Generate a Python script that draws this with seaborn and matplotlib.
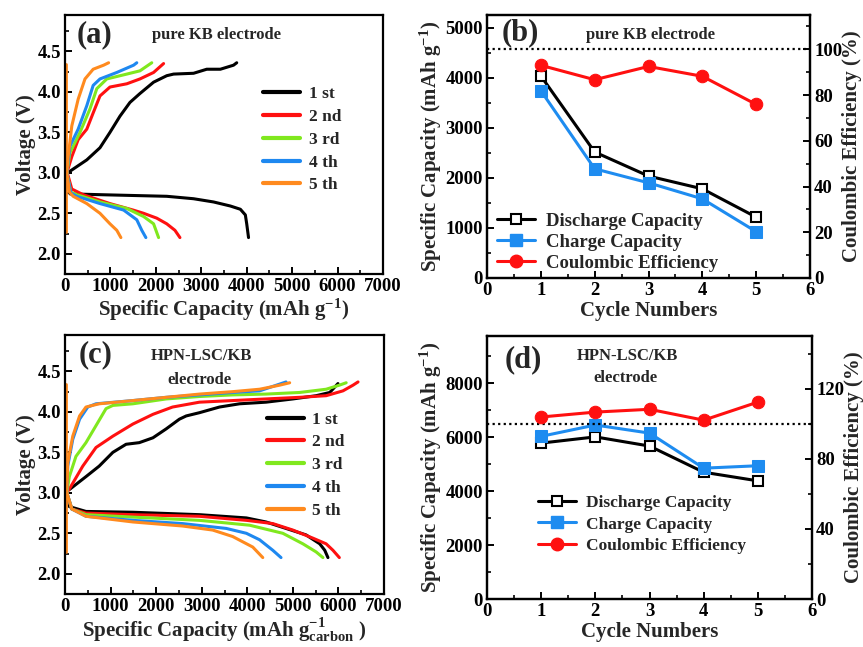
import numpy as np
import matplotlib
matplotlib.use("Agg")
import matplotlib.pyplot as plt
import seaborn as sns
from matplotlib.ticker import MultipleLocator
from matplotlib.lines import Line2D

# ---------- data ----------
cycle_labels = ["1 st", "2 nd", "3 rd", "4 th", "5 th"]
cycle_colors = ["black", "#FF1010", "#80E81E", "#1E88F0", "#FF8A1E"]

# (a) pure KB electrode, [capacity mAh/g, voltage V]
kb_dis_1 = [[40, 3.0], [110, 2.74], [770, 2.73], [1500, 2.72], [2240, 2.71], [2830, 2.68], [3270, 2.64],
            [3640, 2.59], [3860, 2.55], [3970, 2.48], [4000, 2.37], [4040, 2.2]]
kb_chg_1 = [[110, 3.02], [480, 3.16], [770, 3.31], [990, 3.50], [1210, 3.70], [1430, 3.87], [1650, 3.98],
            [1950, 4.12], [2240, 4.20], [2390, 4.22], [2830, 4.23], [3120, 4.28], [3420, 4.28], [3710, 4.33],
            [3780, 4.36]]
kb_dis_2 = [[40, 3.02], [150, 2.80], [400, 2.73], [990, 2.62], [1500, 2.54], [1730, 2.50], [2020, 2.44],
            [2240, 2.37], [2420, 2.29], [2530, 2.2]]
kb_chg_2 = [[40, 3.0], [150, 3.20], [290, 3.41], [480, 3.54], [620, 3.74], [770, 3.95], [990, 4.06],
            [1360, 4.10], [1650, 4.16], [1950, 4.24], [2170, 4.35]]
kb_dis_3 = [[40, 3.0], [130, 2.76], [260, 2.73], [770, 2.64], [1360, 2.56], [1730, 2.46], [1950, 2.37],
            [2060, 2.2]]
kb_chg_3 = [[40, 3.0], [110, 3.25], [330, 3.50], [550, 3.79], [700, 4.04], [920, 4.16], [1360, 4.22],
            [1650, 4.26], [1910, 4.36]]
kb_dis_4 = [[40, 3.0], [130, 2.75], [260, 2.71], [770, 2.62], [1290, 2.54], [1580, 2.42], [1690, 2.29],
            [1780, 2.2]]
kb_chg_4 = [[40, 3.0], [110, 3.33], [290, 3.54], [480, 3.83], [620, 4.08], [770, 4.16], [1140, 4.24],
            [1510, 4.33], [1580, 4.36]]
kb_dis_5 = [[40, 3.0], [100, 2.76], [180, 2.71], [480, 2.62], [770, 2.50], [990, 2.37], [1140, 2.29],
            [1230, 2.2]]
kb_chg_5 = [[40, 3.0], [70, 3.20], [150, 3.58], [290, 3.91], [440, 4.16], [620, 4.28], [850, 4.33],
            [960, 4.36]]
kb_rest_5 = [[20, 2.27], [20, 4.35]]

# (c) HPN-LSC/KB electrode
lsc_dis_1 = [[40, 3.0], [95, 2.83], [460, 2.77], [1490, 2.76], [2950, 2.73], [3980, 2.69], [4410, 2.64],
             [4850, 2.56], [5290, 2.48], [5590, 2.37], [5700, 2.29], [5770, 2.2]]
lsc_chg_1 = [[95, 3.04], [460, 3.20], [750, 3.33], [1050, 3.50], [1340, 3.60], [1630, 3.62], [1930, 3.68],
             [2220, 3.79], [2510, 3.91], [2660, 3.95], [2950, 3.99], [3390, 4.06], [3830, 4.10], [4410, 4.12],
             [5000, 4.16], [5510, 4.20], [5810, 4.24], [5990, 4.35]]
lsc_dis_2 = [[40, 3.0], [150, 2.80], [460, 2.75], [1490, 2.73], [2950, 2.71], [3980, 2.66], [4560, 2.62],
             [5000, 2.54], [5440, 2.44], [5730, 2.37], [5880, 2.29], [6020, 2.2]]
lsc_chg_2 = [[40, 3.0], [130, 3.08], [390, 3.33], [680, 3.56], [1050, 3.70], [1490, 3.85], [1930, 3.97],
             [2360, 4.06], [2950, 4.12], [3680, 4.14], [4410, 4.16], [5150, 4.18], [5730, 4.20], [6100, 4.26],
             [6320, 4.33], [6430, 4.37]]
lsc_dis_3 = [[40, 3.0], [150, 2.80], [460, 2.73], [1490, 2.70], [2950, 2.66], [4050, 2.60], [4780, 2.50],
             [5220, 2.37], [5510, 2.27], [5660, 2.2]]
lsc_chg_3 = [[40, 3.0], [95, 3.20], [240, 3.45], [460, 3.62], [680, 3.83], [900, 4.04], [1050, 4.08],
             [1490, 4.10], [2220, 4.16], [2950, 4.19], [3680, 4.21], [4410, 4.22], [5150, 4.24], [5730, 4.28],
             [6020, 4.33], [6170, 4.36]]
lsc_dis_4 = [[40, 3.0], [150, 2.80], [460, 2.71], [1490, 2.66], [2580, 2.62], [3540, 2.56], [3980, 2.50],
             [4270, 2.42], [4560, 2.29], [4740, 2.2]]
lsc_chg_4 = [[40, 3.0], [60, 3.33], [170, 3.66], [320, 3.91], [500, 4.06], [680, 4.10], [1490, 4.14],
             [2220, 4.18], [2950, 4.21], [3680, 4.24], [4270, 4.26], [4850, 4.37]]
lsc_dis_5 = [[40, 3.0], [150, 2.80], [460, 2.71], [1490, 2.64], [2580, 2.59], [3240, 2.54], [3680, 2.46],
             [4120, 2.33], [4340, 2.2]]
lsc_chg_5 = [[40, 3.0], [60, 3.37], [170, 3.70], [320, 3.95], [460, 4.06], [750, 4.10], [1490, 4.14],
             [2220, 4.18], [2950, 4.22], [3680, 4.25], [4270, 4.28], [4710, 4.33], [4930, 4.36]]
lsc_rest_5 = [[20, 2.27], [20, 4.35]]

# (b) / (d) cycling
cycle_no = [1, 2, 3, 4, 5]
kb_discharge = [4035, 2515, 2035, 1780, 1215]
kb_charge = [3740, 2180, 1900, 1580, 925]
kb_ce = [93.0, 86.7, 92.5, 88.2, 75.9]
lsc_discharge = [5780, 6010, 5670, 4700, 4380]
lsc_charge = [6030, 6450, 6150, 4850, 4940]
lsc_ce = [103.8, 106.6, 108.2, 102.0, 112.3]

# ---------- style ----------
sns.set_theme(style="ticks")
plt.rcParams.update({
    "font.family": ["Liberation Serif", "DejaVu Serif"],
    "font.weight": "bold",
    "axes.labelweight": "bold",
    "axes.linewidth": 1.6,
    "axes.edgecolor": "black",
    "xtick.direction": "in",
    "ytick.direction": "in",
    "xtick.color": "black",
    "ytick.color": "black",
    "xtick.major.size": 5,
    "ytick.major.size": 5,
    "xtick.minor.size": 3,
    "ytick.minor.size": 3,
    "xtick.major.width": 1.4,
    "ytick.major.width": 1.4,
    "xtick.minor.width": 1.2,
    "ytick.minor.width": 1.2,
    "mathtext.fontset": "custom",
    "mathtext.rm": "Liberation Serif:bold",
    "mathtext.it": "Liberation Serif:bold",
    "mathtext.bf": "Liberation Serif:bold",
    "mathtext.default": "rm",
})

W, H = 863, 647
TICK_FS = 13.5
fig = plt.figure(figsize=(W / 100, H / 100), dpi=100)


def box(l, t, r, b):
    return [l / W, 1 - b / H, (r - l) / W, (b - t) / H]


def ftext(x, y, s, size, **kw):
    fig.text(x / W, 1 - y / H, s, fontsize=size, fontweight="bold", ha="center", va="center", **kw)


def voltage_panel(ax, dis_curves, chg_curves, rest, xlabel):
    for i, (d, c) in enumerate(zip(dis_curves, chg_curves)):
        d = np.array(d)
        c = np.array(c)
        sns.lineplot(x=d[:, 0], y=d[:, 1], sort=False, estimator=None, color=cycle_colors[i], lw=2.2, ax=ax)
        sns.lineplot(x=c[:, 0], y=c[:, 1], sort=False, estimator=None, color=cycle_colors[i], lw=2.2, ax=ax)
    r = np.array(rest)
    sns.lineplot(x=r[:, 0], y=r[:, 1], sort=False, estimator=None, color=cycle_colors[4], lw=2.0, ax=ax)
    ax.set_xlim(0, 7000)
    ax.set_ylim(1.75, 4.95)
    ax.xaxis.set_major_locator(MultipleLocator(1000))
    ax.xaxis.set_minor_locator(MultipleLocator(500))
    ax.yaxis.set_major_locator(MultipleLocator(0.5))
    ax.yaxis.set_minor_locator(MultipleLocator(0.25))
    ax.tick_params(labelsize=TICK_FS, pad=3)
    ax.set_xlabel(xlabel, fontsize=15, labelpad=1)
    ax.set_ylabel("Voltage (V)", fontsize=15, labelpad=1)
    handles = [Line2D([], [], color=c, lw=3) for c in cycle_colors]
    return handles


def cycle_panel(ax, dis, chg, ce, ylim, ylim2, ymaj, ymin, y2maj, y2min, legend_kw):
    sns.lineplot(x=cycle_no, y=dis, color="black", lw=2.2, marker="s", markersize=7,
                 markerfacecolor="white", markeredgecolor="black", markeredgewidth=1.5, ax=ax)
    sns.lineplot(x=cycle_no, y=chg, color="#1E8CF0", lw=2.2, marker="s", markersize=8,
                 markeredgecolor="#1E8CF0", ax=ax)
    ax2 = ax.twinx()
    ax2.axhline(100, color="black", ls=(0, (1, 1.5)), lw=1.6)
    sns.lineplot(x=cycle_no, y=ce, color="#FF1010", lw=2.2, marker="o", markersize=9,
                 markeredgecolor="#FF1010", ax=ax2)
    ax.set_xlim(0, 6)
    ax.set_ylim(*ylim)
    ax2.set_ylim(*ylim2)
    ax.xaxis.set_major_locator(MultipleLocator(1))
    ax.xaxis.set_minor_locator(MultipleLocator(0.5))
    ax.yaxis.set_major_locator(MultipleLocator(ymaj))
    ax.yaxis.set_minor_locator(MultipleLocator(ymin))
    ax2.yaxis.set_major_locator(MultipleLocator(y2maj))
    ax2.yaxis.set_minor_locator(MultipleLocator(y2min))
    ax.tick_params(labelsize=TICK_FS, pad=3)
    ax2.tick_params(labelsize=TICK_FS, pad=3, direction="in")
    ax.set_xlabel("Cycle Numbers", fontsize=15, labelpad=1)
    ax.set_ylabel("Specific Capacity (mAh g$^{-1}$)", fontsize=15, labelpad=1)
    ax2.set_ylabel("Coulombic Efficiency (%)", fontsize=15, labelpad=0)
    for s in ax2.spines.values():
        s.set_linewidth(1.6)
    handles = [
        Line2D([], [], color="black", lw=2.2, marker="s", markersize=7, markerfacecolor="white",
               markeredgewidth=1.5),
        Line2D([], [], color="#1E8CF0", lw=2.2, marker="s", markersize=8),
        Line2D([], [], color="#FF1010", lw=2.2, marker="o", markersize=9),
    ]
    ax.legend(handles, ["Discharge Capacity", "Charge Capacity", "Coulombic Efficiency"],
              frameon=False, handletextpad=0.6, **legend_kw)
    return ax2


# ---------- (a) ----------
ax_a = fig.add_axes(box(65, 15, 383, 274))
h = voltage_panel(ax_a, [kb_dis_1, kb_dis_2, kb_dis_3, kb_dis_4, kb_dis_5],
                  [kb_chg_1, kb_chg_2, kb_chg_3, kb_chg_4, kb_chg_5], kb_rest_5,
                  "Specific Capacity (mAh g$^{-1}$)")
ax_a.legend(h, cycle_labels, frameon=False, fontsize=12.5, handlelength=2.1, handletextpad=0.5,
            labelspacing=0.38, loc="upper left", bbox_to_anchor=(0.575, 0.785))
ftext(94, 35, "(a)", 22)
ftext(216, 35, "pure KB electrode", 12)

# ---------- (b) ----------
ax_b = fig.add_axes(box(487, 15, 810, 278))
cycle_panel(ax_b, kb_discharge, kb_charge, kb_ce, (0, 5250), (0, 115), 1000, 500, 20, 10,
            dict(fontsize=13.5, labelspacing=0.2, handlelength=2.0, loc="lower left",
                 bbox_to_anchor=(-0.02, -0.04)))
ftext(520, 33, "(b)", 22)
ftext(650, 35, "pure KB electrode", 12)

# ---------- (c) ----------
ax_c = fig.add_axes(box(65, 335, 384, 594))
h = voltage_panel(ax_c, [lsc_dis_1, lsc_dis_2, lsc_dis_3, lsc_dis_4, lsc_dis_5],
                  [lsc_chg_1, lsc_chg_2, lsc_chg_3, lsc_chg_4, lsc_chg_5], lsc_rest_5,
                  "Specific Capacity (mAh g$_{\\mathrm{carbon}}^{-1}$ )")
ax_c.legend(h, cycle_labels, frameon=False, fontsize=12.5, handlelength=2.1, handletextpad=0.5,
            labelspacing=0.38, loc="upper left", bbox_to_anchor=(0.585, 0.765))
ftext(96, 355, "(c)", 22)
ftext(201, 356, "HPN-LSC/KB", 12)
ftext(199, 380, "electrode", 12)

# ---------- (d) ----------
ax_d = fig.add_axes(box(487, 336, 812, 599))
cycle_panel(ax_d, lsc_discharge, lsc_charge, lsc_ce, (0, 9750), (0, 150), 2000, 1000, 40, 20,
            dict(fontsize=12.5, labelspacing=0.3, handlelength=2.2, loc="lower left",
                 bbox_to_anchor=(0.108, 0.112)))
ftext(523, 360, "(d)", 22)
ftext(627, 356, "HPN-LSC/KB", 12)
ftext(625, 378, "electrode", 12)

fig.savefig("out.png", dpi=100)
